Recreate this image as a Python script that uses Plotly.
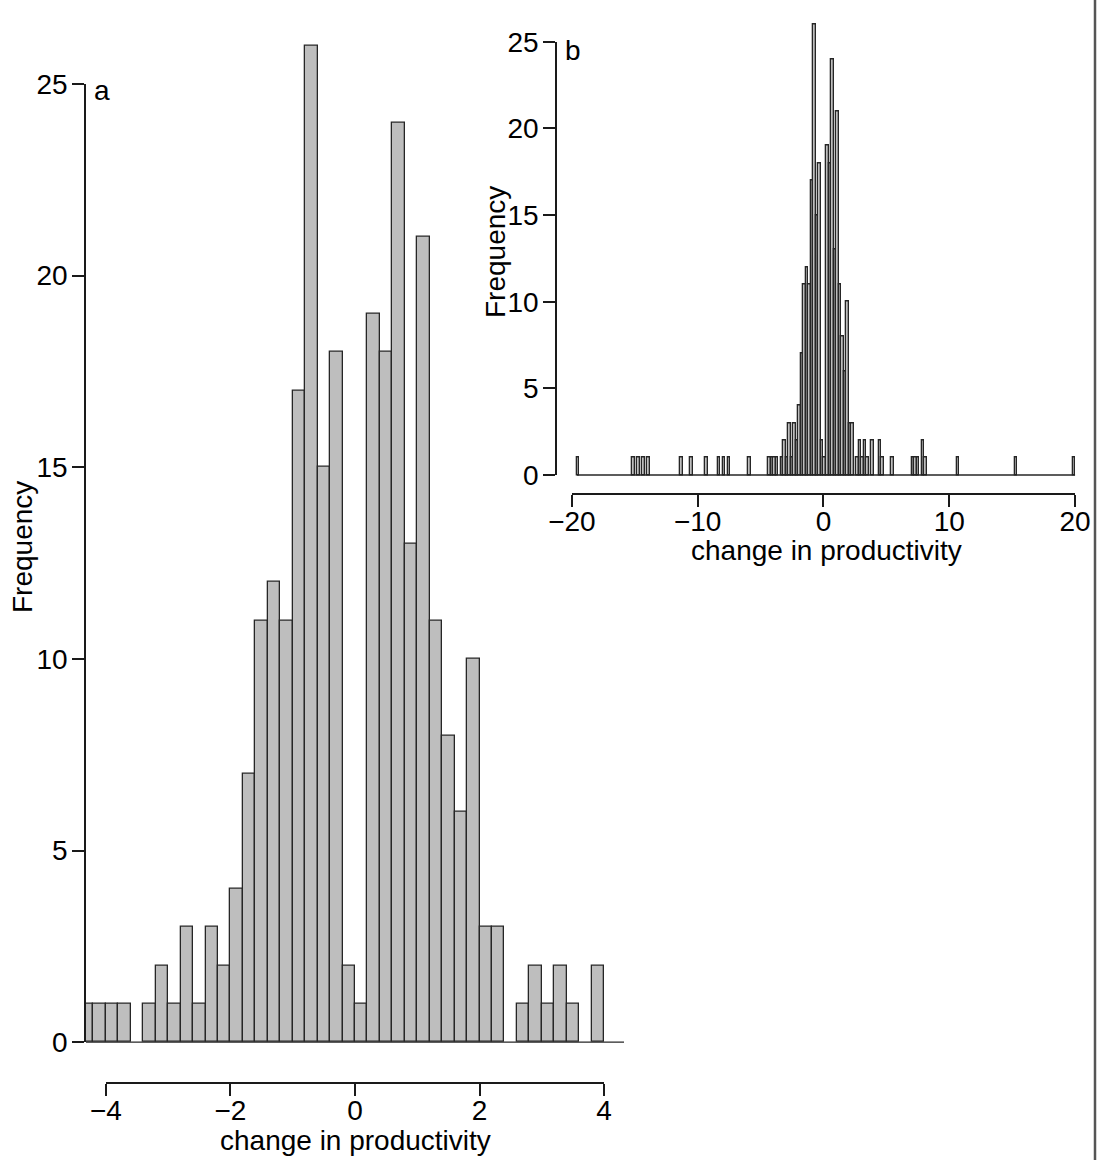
import plotly.graph_objects as go

# ---------------- data (histogram of "change in productivity", bin width 0.2) ----------------
bin_width = 0.2
core_start = -4.4
core_counts = [1, 1, 1, 1, 0, 1, 2, 1, 3, 1, 3, 2, 4, 7,
               11, 12, 11, 17, 26, 15, 18, 2, 1,
               19, 18, 24, 13, 21, 11, 8, 6, 10, 3, 3,
               0, 1, 2, 1, 2, 1, 0, 2]
left_tail_starts = [-19.6, -15.2, -14.8, -14.4, -14.0, -11.4, -10.6, -9.4, -8.4, -8.0, -7.6, -6.0]
left_tail_counts = [1, 1, 1, 1, 1, 1, 1, 1, 1, 1, 1, 1]
right_tail_starts = [4.4, 4.6, 5.4, 7.0, 7.2, 7.4, 7.8, 8.0, 10.6, 15.2, 19.8]
right_tail_counts = [2, 1, 1, 1, 1, 1, 2, 1, 1, 1, 1]

freq_ticks = [0, 5, 10, 15, 20, 25]
a_ticks = [-4, -2, 0, 2, 4]
b_ticks = [-20, -10, 0, 10, 20]
y_lim = [0, 26]
a_xlim = [-4, 4]

x_title = "change in productivity"
y_title = "Frequency"

# ---------------- build bins ----------------
starts, counts = [], []
for s, c in zip(left_tail_starts, left_tail_counts):
    starts.append(s); counts.append(c)
for i, c in enumerate(core_counts):
    if c > 0:
        starts.append(round(core_start + i * bin_width, 1)); counts.append(c)
for s, c in zip(right_tail_starts, right_tail_counts):
    starts.append(s); counts.append(c)
centers = [s + bin_width / 2 for s in starts]
hist_lo = min(starts)
hist_hi = round(max(starts) + bin_width, 1)


def ext(lo, hi):
    d = (hi - lo) * 0.04
    return [lo - d, hi + d]


a_xrange = ext(*a_xlim)
b_xrange = ext(hist_lo, hist_hi)
y_range = ext(*y_lim)

W, H = 1097, 1163


def fx(p):
    return p / W


def fy(p):
    return 1 - p / H


xa_dom = [fx(86), fx(624)]
ya_dom = [fy(1082), fy(5.8)]
xb_dom = [fx(557), fx(1095)]
yb_dom = [fy(493), fy(6.4)]


def sub(dom, rng, lo, hi):
    f = lambda v: dom[0] + (v - rng[0]) / (rng[1] - rng[0]) * (dom[1] - dom[0])
    return [f(lo), f(hi)]


FONT = "Liberation Sans, Arial, sans-serif"
FS = 28
INK = "#1a1a1a"
BAR_FILL = "#BEBEBE"
BAR_LINE = "#262626"

fig = go.Figure()

for xa, ya in (("x", "y"), ("x2", "y2")):
    fig.add_trace(go.Bar(x=centers, y=counts, width=bin_width, xaxis=xa, yaxis=ya,
                         marker=dict(color=BAR_FILL, line=dict(color=BAR_LINE, width=1.3)),
                         showlegend=False, hoverinfo="x+y"))
    fig.add_trace(go.Scatter(x=[hist_lo, hist_hi], y=[0, 0], mode="lines", xaxis=xa, yaxis=ya,
                             line=dict(color=BAR_LINE, width=1.3), showlegend=False, hoverinfo="skip"))

# tick-carrying axes (R style: axis line only spans first..last tick)
fig.add_trace(go.Scatter(x=[], y=[], xaxis="x3", yaxis="y3", showlegend=False))
fig.add_trace(go.Scatter(x=[], y=[], xaxis="x4", yaxis="y4", showlegend=False))

hidden = dict(showline=False, showgrid=False, zeroline=False, showticklabels=False, ticks="",
              automargin=False)
tick_style = dict(showline=True, linecolor=INK, linewidth=1.5, ticks="outside", ticklen=12,
                  tickwidth=1.5, tickcolor=INK, showgrid=False, zeroline=False, automargin=False,
                  tickfont=dict(family=FONT, size=FS, color="black"), fixedrange=True)

X_STANDOFF = -9
Y_STANDOFF = -1

fig.update_layout(
    width=W, height=H, margin=dict(l=0, r=0, t=0, b=0, pad=0, autoexpand=False),
    paper_bgcolor="white", plot_bgcolor="rgba(0,0,0,0)",
    bargap=0, font=dict(family=FONT, size=FS, color="black"),
    xaxis=dict(domain=xa_dom, range=a_xrange, anchor="y", **hidden),
    yaxis=dict(domain=ya_dom, range=y_range, anchor="x", **hidden),
    xaxis2=dict(domain=xb_dom, range=b_xrange, anchor="y2", **hidden),
    yaxis2=dict(domain=yb_dom, range=y_range, anchor="x2", **hidden),
    xaxis3=dict(domain=sub(xa_dom, a_xrange, a_ticks[0], a_ticks[-1]), range=[a_ticks[0], a_ticks[-1]],
                anchor="y", tickvals=a_ticks, ticklabelstandoff=X_STANDOFF, **tick_style),
    yaxis3=dict(domain=sub(ya_dom, y_range, freq_ticks[0], freq_ticks[-1]), range=[freq_ticks[0], freq_ticks[-1]],
                anchor="x", tickvals=freq_ticks, ticklabelstandoff=Y_STANDOFF, **tick_style),
    xaxis4=dict(domain=sub(xb_dom, b_xrange, b_ticks[0], b_ticks[-1]), range=[b_ticks[0], b_ticks[-1]],
                anchor="y2", tickvals=b_ticks, ticklabelstandoff=X_STANDOFF, **tick_style),
    yaxis4=dict(domain=sub(yb_dom, y_range, freq_ticks[0], freq_ticks[-1]), range=[freq_ticks[0], freq_ticks[-1]],
                anchor="x2", tickvals=freq_ticks, ticklabelstandoff=Y_STANDOFF, **tick_style),
)

ann_font = dict(family=FONT, size=FS, color="black")
annotations = [
    dict(text="a", x=fx(92), y=fy(90), xanchor="left", yanchor="middle"),
    dict(text="b", x=fx(563), y=fy(50), xanchor="left", yanchor="middle"),
    dict(text=y_title, x=fx(22), y=fy(547), textangle=-90, xanchor="center", yanchor="middle"),
    dict(text=y_title, x=fx(495), y=fy(252), textangle=-90, xanchor="center", yanchor="middle"),
    dict(text=x_title, x=fx(355), y=fy(1140), xanchor="center", yanchor="middle"),
    dict(text=x_title, x=fx(826), y=fy(550), xanchor="center", yanchor="middle"),
]
for a in annotations:
    fig.add_annotation(xref="paper", yref="paper", showarrow=False, font=ann_font, **a)

# right-hand frame rule
fig.add_shape(type="line", xref="paper", yref="paper", x0=fx(1095), x1=fx(1095), y0=fy(1160), y1=1,
              line=dict(color="#555555", width=2.5))

# remove the default page margin so the figure fills the window exactly
fig.write_html("out.html", config={"displayModeBar": False},
               post_script="document.body.style.margin='0';document.body.style.overflow='hidden';")
